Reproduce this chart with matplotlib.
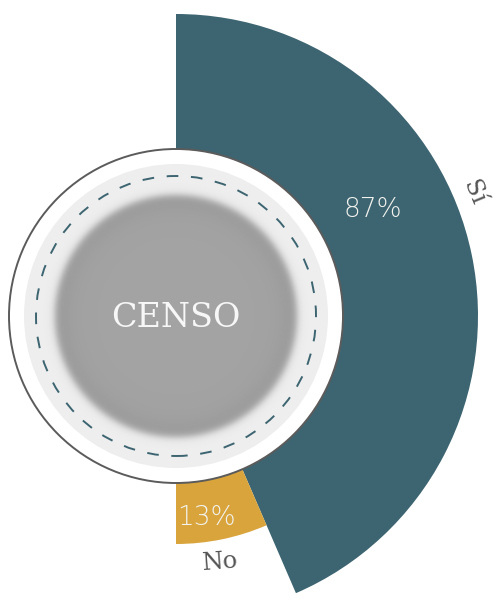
import matplotlib.pyplot as plt
import numpy as np
from matplotlib.patches import Wedge, Circle

# survey answers
labels = ['Sí', 'No']
values = [87, 13]
colors = ['#3d6571', '#d9a43b']

# where the text sits around the dial (degrees clockwise from the top)
pct_angle = [61.7, 171.3]
pct_radius = [224, 204]
name_angle = [67.5, 169.8]
name_radius = [322, 250]

BASE_R = 215      # bar length = BASE_R + value
HOLE_R = 167


def polar(r, ang):
    a = np.deg2rad(ang)
    return r * np.sin(a), r * np.cos(a)


def plot_it():
    fig = plt.figure(figsize=(4.96, 6.0), dpi=100)
    ax = fig.add_axes([0, 0, 1, 1])
    ax.set_xlim(-176, 320)
    ax.set_ylim(-284, 316)
    ax.axis('off')

    # half dial: angles split the 180 degrees by share, radius grows with value
    total = sum(values)
    start = 0.0
    for lab, v, c in zip(labels, values, colors):
        span = 180.0 * v / total
        ax.add_patch(Wedge((0, 0), BASE_R + v, 90 - start - span, 90 - start,
                           facecolor=c, edgecolor='none', zorder=1))
        start += span

    # centre badge
    ax.add_patch(Circle((0, 0), HOLE_R, facecolor='white',
                        edgecolor='#5b5b5b', lw=1.4, zorder=2))
    ax.add_patch(Circle((0, 0), 152, facecolor='#eeeeee',
                        edgecolor='none', zorder=3))

    # soft grey disc
    n = 400
    g = np.linspace(-140, 140, n)
    xx, yy = np.meshgrid(g, g)
    rr = np.hypot(xx, yy)
    r0 = 121
    alpha = 0.5 * (1 - np.tanh((rr - r0) / 4.5))
    shade = 0.64 - 0.06 * np.clip(rr / r0, 0, 1) ** 10
    img = np.zeros((n, n, 4))
    img[..., 0] = shade
    img[..., 1] = shade
    img[..., 2] = shade
    img[..., 3] = alpha
    ax.imshow(img, extent=(-140, 140, -140, 140), origin='lower',
              interpolation='bilinear', zorder=4)

    ax.add_patch(Circle((0, 0), 140, fill=False, edgecolor='#3d6571',
                        lw=1.4, ls=(0, (6.0, 6.5)), zorder=5))

    ax.text(0, -2, 'CENSO', family='DejaVu Serif', fontsize=24,
            color='#f7f7f7', ha='center', va='center', zorder=6)

    for i, lab in enumerate(labels):
        x, y = polar(pct_radius[i], pct_angle[i])
        ax.text(x, y, f'{values[i]}%', family='DejaVu Sans', fontweight='light',
                fontsize=19, color='#f2f2ee', ha='center', va='center', zorder=6)

        x, y = polar(name_radius[i], name_angle[i])
        rot = -name_angle[i] if name_angle[i] < 90 else 174 - name_angle[i]
        ax.text(x, y, lab, family='DejaVu Serif', fontsize=17.5,
                color='#555555', ha='center', va='center', rotation=rot,
                rotation_mode='anchor', zorder=6)

    fig.savefig('out.png', dpi=100)


plot_it()
